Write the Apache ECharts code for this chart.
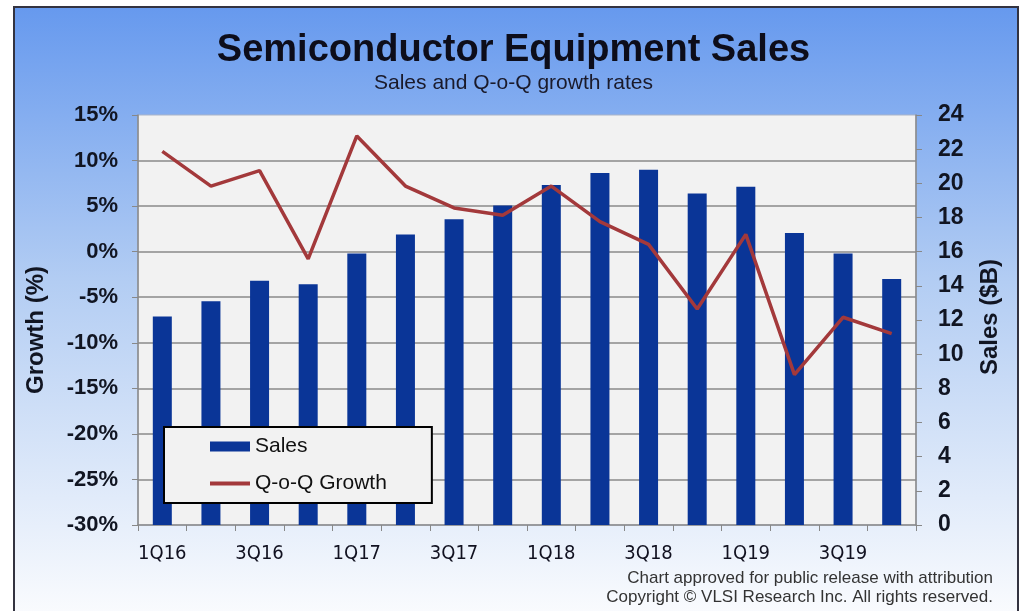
<!DOCTYPE html>
<html>
<head>
<meta charset="utf-8">
<script src="https://cdn.jsdelivr.net/npm/echarts@6/dist/echarts.min.js"></script>
<style>
html,body{margin:0;padding:0;background:#fff;}
#chart{width:1027px;height:611px;}
</style>
</head>
<body>
<div id="chart"></div>
<script>
var categories = ['1Q16','2Q16','3Q16','4Q16','1Q17','2Q17','3Q17','4Q17','1Q18','2Q18','3Q18','4Q18','1Q19','2Q19','3Q19','4Q19'];
var salesValues = [12.2, 13.1, 14.3, 14.1, 15.9, 17.0, 17.9, 18.7, 19.9, 20.6, 20.8, 19.4, 19.8, 17.1, 15.9, 14.4];
var growthValues = [11.0, 7.2, 8.9, -0.8, 12.7, 7.2, 4.8, 4.0, 7.2, 3.3, 0.8, -6.3, 1.9, -13.5, -7.2, -9.0];
var growthTicks = {min: -30, max: 15, interval: 5};
var salesTicks = {min: 0, max: 24, interval: 2};
var titleText = 'Semiconductor Equipment Sales';
var subtitleText = 'Sales and Q-o-Q growth rates';
var footLines = ['Chart approved for public release with attribution', 'Copyright \u00A9 VLSI Research Inc. All rights reserved.'];

var chart = echarts.init(document.getElementById('chart'), null, {renderer: 'canvas'});
var F = '"Liberation Sans", Arial, sans-serif';
var FX = '"DejaVu Sans Condensed", "Liberation Sans", sans-serif';

chart.setOption({
  backgroundColor: '#ffffff',
  animation: false,
  graphic: [
    {type: 'rect', z: -10, shape: {x: 14, y: 7, width: 1004, height: 612},
      style: {fill: new echarts.graphic.LinearGradient(0, 0, 0, 1, [
        {offset: 0, color: '#6699ee'}, {offset: 0.45, color: '#b3cdf3'}, {offset: 1, color: '#fbfcfe'}]),
        stroke: '#333340', lineWidth: 2}},
    {type: 'text', right: 1027 - 993, top: 570, style: {text: footLines[0], font: '17px ' + F, fill: '#333333', align: 'right'}},
    {type: 'text', right: 1027 - 993, top: 589, style: {text: footLines[1], font: '17px ' + F, fill: '#333333', align: 'right'}}
  ],
  title: [
    {text: titleText, left: 'center', top: 27,
      textStyle: {fontFamily: F, fontWeight: 'bold', fontSize: 38, color: '#0d0d1a'}},
    {text: subtitleText, left: 'center', top: 68,
      textStyle: {fontFamily: F, fontWeight: 'normal', fontSize: 21, color: '#1a1a2a'}}
  ],
  legend: {
    orient: 'vertical', left: 164, top: 427,
    padding: [9, 45, 9, 44], itemGap: 16,
    backgroundColor: '#f2f2f2', borderColor: '#000000', borderWidth: 2,
    itemWidth: 40, itemHeight: 10,
    textStyle: {fontFamily: F, fontSize: 21, color: '#111111'},
    data: [
      {name: 'Sales', icon: 'rect'},
      {name: 'Q-o-Q Growth', itemStyle: {opacity: 0, borderWidth: 0}, lineStyle: {width: 4, color: '#a3393b'}}
    ]
  },
  grid: {left: 138, right: 111, top: 115, bottom: 86, show: true,
    backgroundColor: '#f2f2f2', borderColor: '#aab4c8', borderWidth: 1, containLabel: false},
  xAxis: {
    type: 'category', data: categories, boundaryGap: true,
    axisLine: {show: true, onZero: false, lineStyle: {color: '#888888', width: 1.5}},
    axisTick: {show: true, interval: 0, length: 6, lineStyle: {color: '#888888'}},
    axisLabel: {interval: 1, margin: 19, fontFamily: FX, fontSize: 20, color: '#111120'}
  },
  yAxis: [
    {type: 'value', position: 'left', min: growthTicks.min, max: growthTicks.max, interval: growthTicks.interval,
      name: 'Growth (%)', nameLocation: 'middle', nameRotate: 90, nameGap: 90,
      nameTextStyle: {fontFamily: F, fontWeight: 'bold', fontSize: 24, color: '#111522', padding: [0, 20, 0, 0]},
      axisLine: {show: true, lineStyle: {color: '#888888', width: 1.5}},
      axisTick: {show: true, length: 6, lineStyle: {color: '#888888'}},
      axisLabel: {formatter: '{value}%', margin: 20, fontFamily: F, fontWeight: 'bold', fontSize: 22, color: '#111522'},
      splitLine: {show: true, showMinLine: false, showMaxLine: false, lineStyle: {color: '#8a8a8a', width: 1.5}}
    },
    {type: 'value', position: 'right', min: salesTicks.min, max: salesTicks.max, interval: salesTicks.interval,
      name: 'Sales ($B)', nameLocation: 'middle', nameRotate: 90, nameGap: 62,
      nameTextStyle: {fontFamily: F, fontWeight: 'bold', fontSize: 24, color: '#111522', padding: [0, 0, 0, 6]},
      axisLine: {show: true, lineStyle: {color: '#888888', width: 1.5}},
      axisTick: {show: true, length: 6, lineStyle: {color: '#888888'}},
      axisLabel: {margin: 22, fontFamily: F, fontWeight: 'bold', fontSize: 23, color: '#111522'},
      splitLine: {show: false}
    }
  ],
  series: [
    {name: 'Sales', type: 'bar', yAxisIndex: 1, data: salesValues, barWidth: 19,
      itemStyle: {color: '#0a3597'}, z: 2},
    {name: 'Q-o-Q Growth', type: 'line', yAxisIndex: 0, data: growthValues,
      symbol: 'none', showSymbol: false, lineStyle: {color: '#a3393b', width: 3.5},
      itemStyle: {color: '#a3393b'}, z: 3}
  ]
});
</script>
</body>
</html>
